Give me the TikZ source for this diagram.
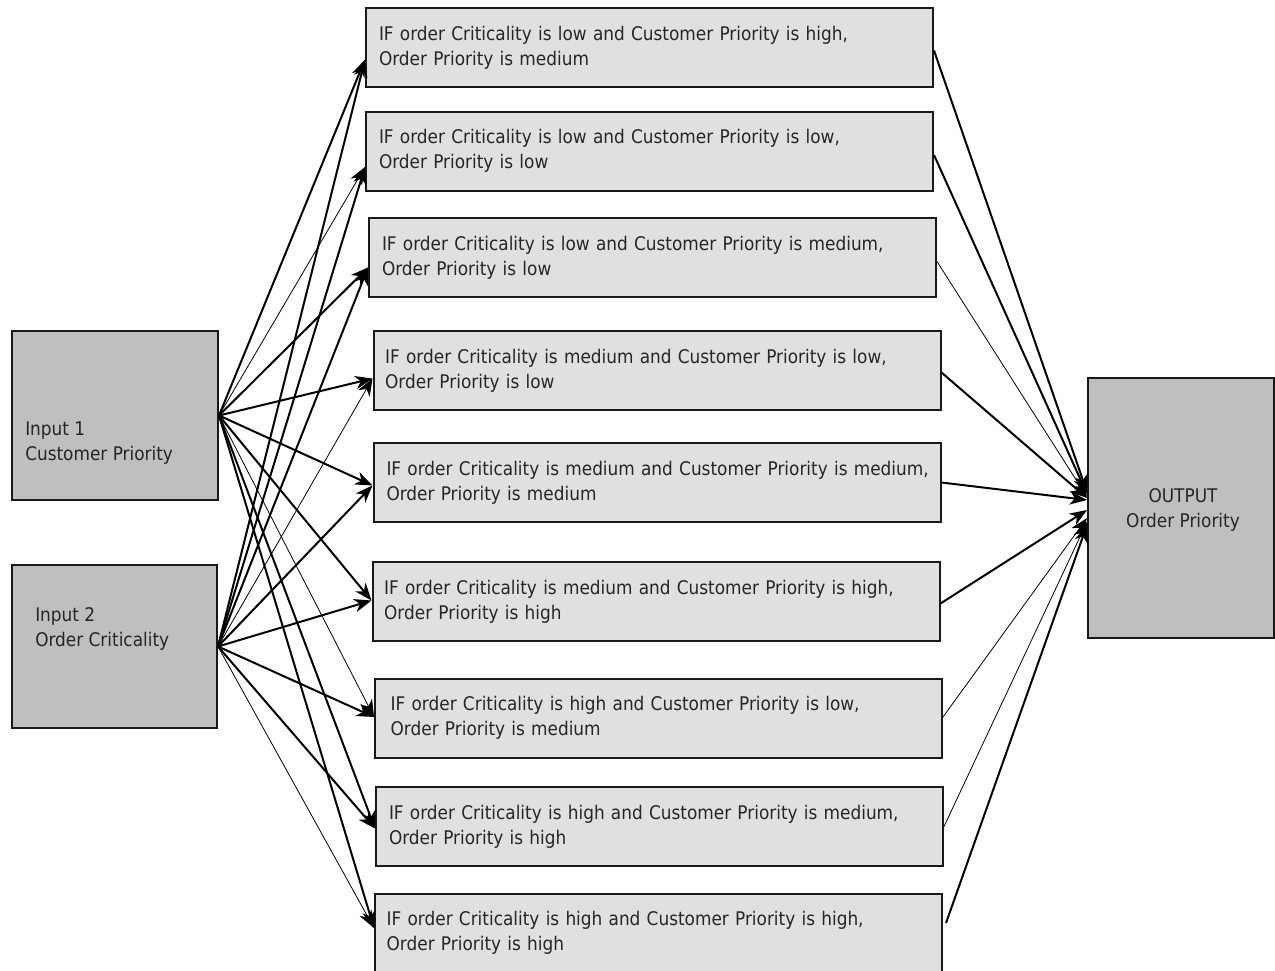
\documentclass[tikz,border=0pt]{standalone}
\usepackage{fontspec}
\setmainfont{DejaVu Sans Condensed}
\usetikzlibrary{arrows.meta,calc}
\begin{document}
\begin{tikzpicture}[x=0.75pt,y=-0.75pt,
  txt/.style={font=\fontsize{14.1}{18.75}\selectfont, text=black!85},
  rulebox/.style={txt, draw=black!90, line width=1.5pt, fill=gray!24,
    minimum height=79*0.75pt, text width=(567-18)*0.75pt,
    inner xsep=9*0.75pt, inner ysep=0pt, align=left},
  iobox/.style={draw=black!90, line width=1.5pt, fill=gray!50, inner sep=0pt},
  arr/.style={-{Stealth[length=13pt,width=10pt,inset=4pt]}, line width=1.5pt, black},
  fine/.style={line width=0.6pt}
]
\useasboundingbox (0,0) rectangle (1275,971);
\clip (0,0) rectangle (1275,971);

% inputs and output
\node[iobox, minimum width=206*0.75pt, minimum height=169*0.75pt] (in1) at (115,415.5) {};
\node[iobox, minimum width=205*0.75pt, minimum height=163*0.75pt] (in2) at (114.5,646.5) {};
\node[iobox, minimum width=186*0.75pt, minimum height=260*0.75pt] (out) at (1181,508) {};
\node[txt, anchor=west, align=left, inner sep=0pt] (in1t) at (25,443.5) {Input 1\\Customer Priority};
\node[txt, anchor=west, align=left, inner sep=0pt] (in2t) at (35,629) {Input 2\\Order Criticality};
\node[txt, align=center, inner sep=0pt] (outt) at (1183,509.5) {OUTPUT\\Order Priority};

% rule boxes (text indented a little from the left edge)
\node[rulebox] (r1) at (649.5,47.5) {\hspace*{3pt}IF order Criticality is low and Customer Priority is high,\\\hspace*{3pt}Order Priority is medium};
\node[rulebox] (r2) at (649.5,151) {\hspace*{3pt}IF order Criticality is low and Customer Priority is low,\\\hspace*{3pt}Order Priority is low};
\node[rulebox] (r3) at (652.5,257.5) {\hspace*{3pt}IF order Criticality is low and Customer Priority is medium,\\\hspace*{3pt}Order Priority is low};
\node[rulebox] (r4) at (657,370.5) {\hspace*{2pt}IF order Criticality is medium and Customer Priority is low,\\\hspace*{2pt}Order Priority is low};
\node[rulebox] (r5) at (657,482.5) {\hspace*{3pt}IF order Criticality is medium and Customer Priority is medium,\\\hspace*{3pt}Order Priority is medium};
\node[rulebox] (r6) at (656,601.5) {\hspace*{2pt}IF order Criticality is medium and Customer Priority is high,\\\hspace*{2pt}Order Priority is high};
\node[rulebox] (r7) at (658.5,718) {\hspace*{5pt}IF order Criticality is high and Customer Priority is low,\\\hspace*{5pt}Order Priority is medium};
\node[rulebox] (r8) at (659.5,826.5) {\hspace*{3pt}IF order Criticality is high and Customer Priority is medium,\\\hspace*{3pt}Order Priority is high};
\node[rulebox] (r9) at (658.5,933) {\hspace*{2pt}IF order Criticality is high and Customer Priority is high,\\\hspace*{2pt}Order Priority is high};

% input 1 to every rule
\draw[arr] (in1.east) -- ($(r1.west)+(0,12)$);
\draw[arr,fine] (in1.east) -- ($(r2.west)+(0,16)$);
\draw[arr] (in1.east) -- ($(r3.west)+(0,10)$);
\draw[arr] (in1.east) -- ($(r4.west)+(0,8)$);
\draw[arr] (in1.east) -- ($(r5.west)+(0,3)$);
\draw[arr] (in1.east) -- ($(r6.west)+(0,-1)$);
\draw[arr,fine] (in1.east) -- ($(r7.west)+(0,-1)$);
\draw[arr] (in1.east) -- ($(r8.west)+(0,2)$);
\draw[arr] (in1.east) -- ($(r9.west)+(0,-5)$);

% input 2 to every rule
\draw[arr] (in2.east) -- ($(r1.west)+(0,12)$);
\draw[arr] (in2.east) -- ($(r2.west)+(0,16)$);
\draw[arr] (in2.east) -- ($(r3.west)+(0,10)$);
\draw[arr,fine] (in2.east) -- ($(r4.west)+(0,8)$);
\draw[arr] (in2.east) -- ($(r5.west)+(0,3)$);
\draw[arr] (in2.east) -- ($(r6.west)+(0,-1)$);
\draw[arr] (in2.east) -- ($(r7.west)+(0,-1)$);
\draw[arr] (in2.east) -- ($(r8.west)+(0,2)$);
\draw[arr,fine] (in2.east) -- ($(r9.west)+(0,-5)$);

% every rule to the output
\draw[arr] ($(r1.east)+(0,3)$) -- ($(out.west)+(0,-16)$);
\draw[arr] ($(r2.east)+(0,4)$) -- ($(out.west)+(0,-14)$);
\draw[arr,fine] ($(r3.east)+(0,4)$) -- ($(out.west)+(0,-11)$);
\draw[arr] ($(r4.east)+(0,2)$) -- ($(out.west)+(0,-10)$);
\draw[arr] ($(r5.east)+(0,0)$) -- ($(out.west)+(0,-8)$);
\draw[arr] ($(r6.east)+(0,2)$) -- ($(out.west)+(0,2)$);
\draw[arr,fine] ($(r7.east)+(0,-1)$) -- ($(out.west)+(0,10)$);
\draw[arr,fine] ($(r8.east)+(0,0)$) -- ($(out.west)+(0,14)$);
\draw[arr] ($(r9.east)+(3,-10)$) -- ($(out.west)+(0,17)$);
\end{tikzpicture}
\end{document}
